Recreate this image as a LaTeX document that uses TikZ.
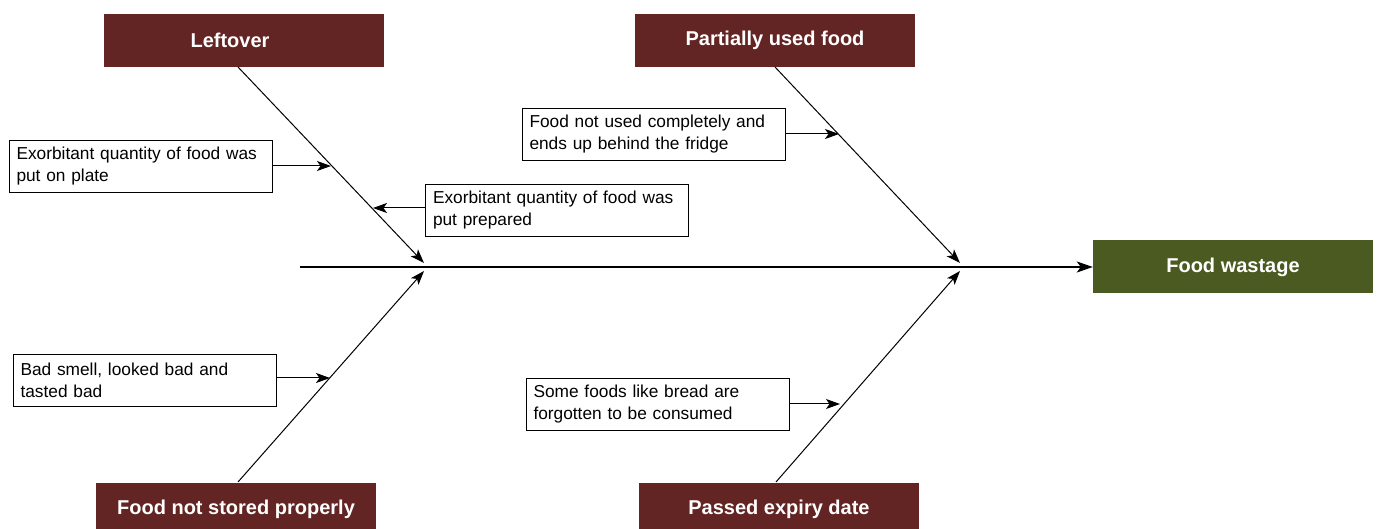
\documentclass[tikz,border=0pt]{standalone}
\usepackage{fontspec}
\setmainfont{Liberation Sans}
\usetikzlibrary{arrows.meta,calc}
\definecolor{cause}{HTML}{632523}
\definecolor{effect}{HTML}{4A5A21}
\tikzset{
  head/.style={fill=cause, text=white, minimum width=280pt, minimum height=53pt, inner sep=0pt, font=\fontsize{20}{24}\selectfont\bfseries},
  effbox/.style={head, fill=effect},
  lbl/.style={draw=black, line width=1pt, minimum width=263pt, minimum height=52pt, inner xsep=7.5pt, inner ysep=0pt, align=left, text width=248pt, font=\fontsize{17.3}{22}\selectfont},
  bone/.style={line width=1pt, -{Stealth[length=14pt,width=10pt,inset=3.5pt]}},
  spine/.style={line width=2pt, -{Stealth[length=16pt,width=11pt,inset=4pt]}},
  sub/.style={line width=1pt, -{Stealth[length=14pt,width=10pt,inset=3.5pt]}}
}
\begin{document}
\begin{tikzpicture}[x=1pt,y=-1pt]
\useasboundingbox (0,0) rectangle (1377,529);
\clip (0,0) rectangle (1377,529);
% cause headers
\node[head] (lo) at (244,40.5) {Leftover\hspace*{28pt}};
\node[head] (pu) at (775,40.5) {Partially used food};
\node[head] (ns) at (236,509) {Food not stored properly};
\node[head] (pe) at (779,509) {Passed expiry date};
\node[effbox] (fw) at (1233,267) {Food wastage};
% spine
\coordinate (s0) at (300,267);
\coordinate (j1u) at (424,263);
\coordinate (j1d) at (424,271);
\coordinate (j2u) at (960,263);
\coordinate (j2d) at (960,271);
\draw[spine] (s0) -- (fw.west);
% bones
\coordinate (b1) at (238,67);
\coordinate (b2) at (775,67);
\coordinate (b3) at (238,482);
\coordinate (b4) at (776,482);
\draw[bone] (b1) -- (j1u);
\draw[bone] (b2) -- (j2u);
\draw[bone] (b3) -- (j1d);
\draw[bone] (b4) -- (j2d);
% sub-cause labels
\node[lbl] (l1) at (140.5,166.5) {Exorbitant quantity of food was\\put on plate};
\node[lbl] (l2) at (557,210.5) {Exorbitant quantity of food was\\put prepared};
\node[lbl] (l3) at (653.5,134.5) {Food not used completely and\\ends up behind the fridge};
\node[lbl] (l4) at (144.5,380.5) {Bad smell, looked bad and\\tasted bad};
\node[lbl] (l5) at (657.5,404.5) {Some foods like bread are\\forgotten to be consumed};
\coordinate (e1) at (331,166);
\coordinate (e2) at (373,208);
\coordinate (e3) at (839,134);
\coordinate (e4) at (330,378);
\coordinate (e5) at (840,404);
\draw[sub] (l1.east |- e1) -- (e1);
\draw[sub] (l2.west |- e2) -- (e2);
\draw[sub] (l3.east |- e3) -- (e3);
\draw[sub] (l4.east |- e4) -- (e4);
\draw[sub] (l5.east |- e5) -- (e5);
\end{tikzpicture}
\end{document}
